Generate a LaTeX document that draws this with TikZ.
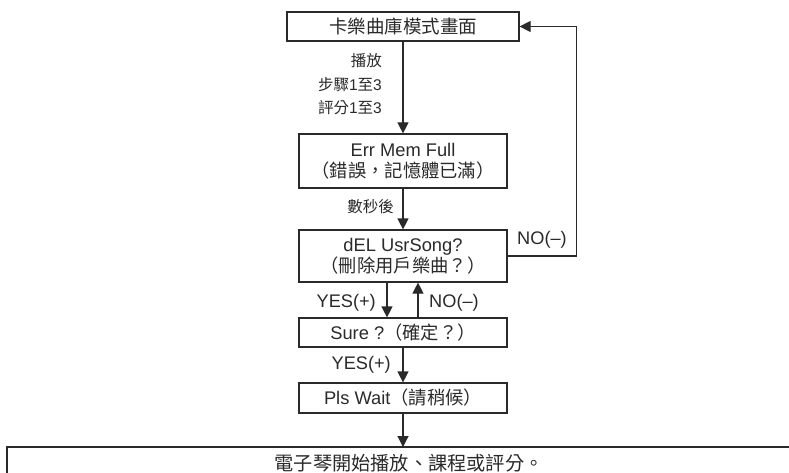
\documentclass[tikz,border=0pt]{standalone}
\usepackage{fontspec}
\setmainfont{Liberation Sans}
\newfontfamily\cjk{Noto Sans CJK TC}
\usetikzlibrary{arrows.meta}
\newcommand\zh[1]{{\cjk #1}}
\definecolor{ink}{HTML}{2A2A2A}
\tikzset{
  box/.style={draw=ink, line width=1.2pt, rectangle, inner sep=0pt, minimum width=208pt, align=center, text=ink, font=\fontsize{18.3}{21}\selectfont},
  lbl/.style={inner sep=0pt, text=ink, font=\fontsize{15.5}{19}\selectfont},
  yn/.style={lbl, font=\fontsize{18.2}{19}\selectfont},
  arr/.style={draw=ink, line width=1.2pt, -{Triangle[length=11pt,width=11pt]}},
  ln/.style={draw=ink, line width=1.2pt}
}
\begin{document}
\begin{tikzpicture}[x=1pt,y=-1pt]
\clip (0,0) rectangle (789,473);
\fill[white] (0,0) rectangle (789,473);
\node[box, minimum width=232pt, minimum height=29pt, font=\fontsize{18.5}{21}\selectfont] (b1) at (403,26.5) {\zh{卡樂曲庫模式畫面}};
\node[box, minimum height=54pt] (b2) at (403,161) {Err Mem Full\\\zh{（錯誤，記憶體已滿）}};
\node[box, minimum height=52pt] (b3) at (403,256) {dEL UsrSong?\\\zh{（刪除用戶樂曲？）}};
\node[box, minimum height=29pt] (b4) at (403,332.5) {Sure ?\zh{（確定？）}};
\node[box, minimum height=30pt] (b5) at (403,398) {Pls Wait\zh{（請稍候）}};
\draw[ln] (7,480) -- (7,447) -- (800,447);
\coordinate (fin) at (403,447);
\node[lbl, font=\fontsize{19.2}{21}\selectfont] (t6) at (409,463) {\zh{電子琴開始播放、課程或評分。}};
% labels
\node[lbl, anchor=east] (l1) at (382,61) {\zh{播放}};
\node[lbl, anchor=east] (l2) at (382,85) {\zh{步驟}1\zh{至}3};
\node[lbl, anchor=east] (l3) at (382,108) {\zh{評分}1\zh{至}3};
\node[lbl, anchor=east] (l4) at (394,207) {\zh{數秒後}};
\node[yn] (l5) at (542,240) {NO(–)};
\node[yn, anchor=east] (l6) at (376,303) {YES(+)};
\node[yn, anchor=west] (l7) at (429,303) {NO(–)};
\node[yn, anchor=east] (l8) at (391,365) {YES(+)};
% connectors
\draw[arr] (b1.south) -- (b2.north);
\draw[arr] (b2.south) -- (b3.north);
\draw[arr] ([xshift=-16pt]b3.south) -- ([xshift=-16pt]b4.north);
\draw[arr] ([xshift=15pt]b4.north) -- ([xshift=15pt]b3.south);
\draw[arr] (b4.south) -- (b5.north);
\draw[arr] (b5.south) -- (fin);
\draw[arr] (b3.east) -- ++(69,0) |- (b1.east);
\end{tikzpicture}
\end{document}
